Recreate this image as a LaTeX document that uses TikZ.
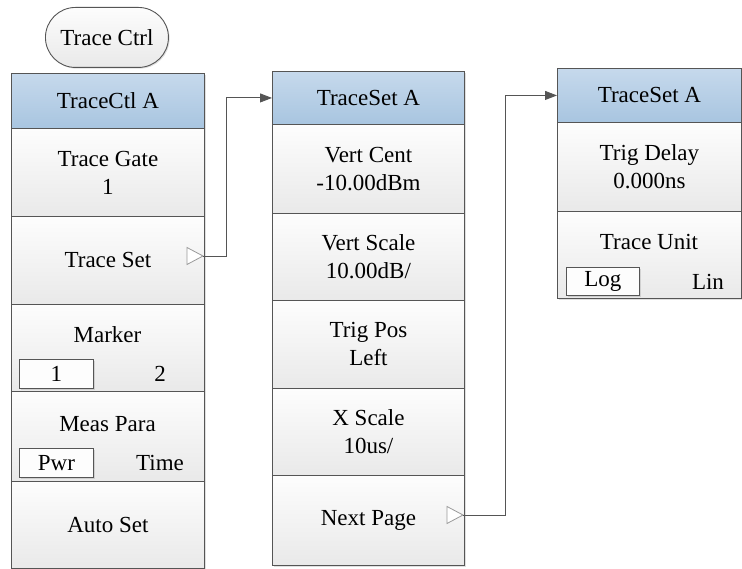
\documentclass[tikz,border=0pt]{standalone}
\usepackage{fontspec}
\setmainfont{Liberation Serif}
\usetikzlibrary{arrows.meta,shadows}
\definecolor{edge}{RGB}{85,85,85}
\definecolor{hdtop}{RGB}{198,217,236}
\definecolor{hdbot}{RGB}{168,197,224}
\definecolor{celltop}{RGB}{253,253,253}
\definecolor{cellbot}{RGB}{233,233,233}
\tikzset{
  txt/.style={font=\fontsize{23}{28}\selectfont, text=black},
  base/.style={txt, draw=edge, line width=0.9pt, inner sep=0pt, anchor=north west, align=center,
    drop shadow={shadow xshift=1.2pt, shadow yshift=-1.2pt, opacity=0.25}},
  hdr/.style={base, top color=hdtop, bottom color=hdbot},
  cell/.style={base, top color=celltop, bottom color=cellbot},
  optbox/.style={txt, draw=edge, line width=0.9pt, fill=celltop, inner sep=0pt, anchor=north west,
    drop shadow={shadow xshift=1.2pt, shadow yshift=-1.2pt, opacity=0.25}},
  lbl/.style={txt, inner sep=0pt},
  tri/.style={draw=gray!80, line width=0.8pt, fill=white},
  conn/.style={draw=edge, line width=0.9pt, -{Triangle[length=12pt,width=9pt]}},
}
\begin{document}
\begin{tikzpicture}[x=1pt, y=-1pt]
\useasboundingbox (0,0) rectangle (742,569);
% title
\node[cell, rounded corners=30pt, minimum width=123pt, minimum height=60pt] (ctrl) at (45,7) {Trace Ctrl};
% left column
\node[hdr, minimum width=193pt, minimum height=55pt] (lA) at (11,73) {TraceCtl A};
\node[cell, minimum width=193pt, minimum height=88pt] (l1) at (11,128) {Trace Gate\\1};
\node[cell, minimum width=193pt, minimum height=88pt] (l2) at (11,216) {Trace Set};
\node[cell, minimum width=193pt, minimum height=87pt] (l3) at (11,304) {};
\node[cell, minimum width=193pt, minimum height=90pt] (l4) at (11,391) {};
\node[cell, minimum width=193pt, minimum height=87pt] (l5) at (11,481) {Auto Set};
\node[lbl] (l3t) at (107.5,335) {Marker};
\node[optbox, minimum width=74pt, minimum height=29pt] (l3a) at (19,359) {1};
\node[lbl] (l3b) at (160,374) {2};
\node[lbl] (l4t) at (107.5,424) {Meas Para};
\node[optbox, minimum width=74pt, minimum height=29pt] (l4a) at (19,448) {Pwr};
\node[lbl] (l4b) at (160,463) {Time};
% middle column
\node[hdr, minimum width=192pt, minimum height=53pt] (mA) at (272,71) {TraceSet A};
\node[cell, minimum width=192pt, minimum height=89pt] (m1) at (272,124) {Vert Cent\\-10.00dBm};
\node[cell, minimum width=192pt, minimum height=87pt] (m2) at (272,213) {Vert Scale\\10.00dB/};
\node[cell, minimum width=192pt, minimum height=88pt] (m3) at (272,300) {Trig Pos\\Left};
\node[cell, minimum width=192pt, minimum height=87pt] (m4) at (272,388) {X Scale\\10us/};
\node[cell, minimum width=192pt, minimum height=90pt] (m5) at (272,475) {Next Page};
% right column
\node[hdr, minimum width=184pt, minimum height=54pt] (rA) at (557,68) {TraceSet A};
\node[cell, minimum width=184pt, minimum height=89pt] (r1) at (557,122) {Trig Delay\\0.000ns};
\node[cell, minimum width=184pt, minimum height=87pt] (r2) at (557,211) {};
\node[lbl] (r2t) at (649,242) {Trace Unit};
\node[optbox, minimum width=73pt, minimum height=28pt] (r2a) at (566,267) {Log};
\node[lbl] (r2b) at (708,282) {Lin};
% triangles
\coordinate (t1) at (203,256);
\coordinate (t2) at (463,515);
\draw[tri] (t1) -- ++(-16,-8.5) -- ++(0,17) -- cycle;
\draw[tri] (t2) -- ++(-16,-8.5) -- ++(0,17) -- cycle;
% connectors
\draw[conn] (t1) -- ++(23,0) |- (mA.west);
\draw[conn] (t2) -- ++(42,0) |- (rA.west);
\end{tikzpicture}
\end{document}
